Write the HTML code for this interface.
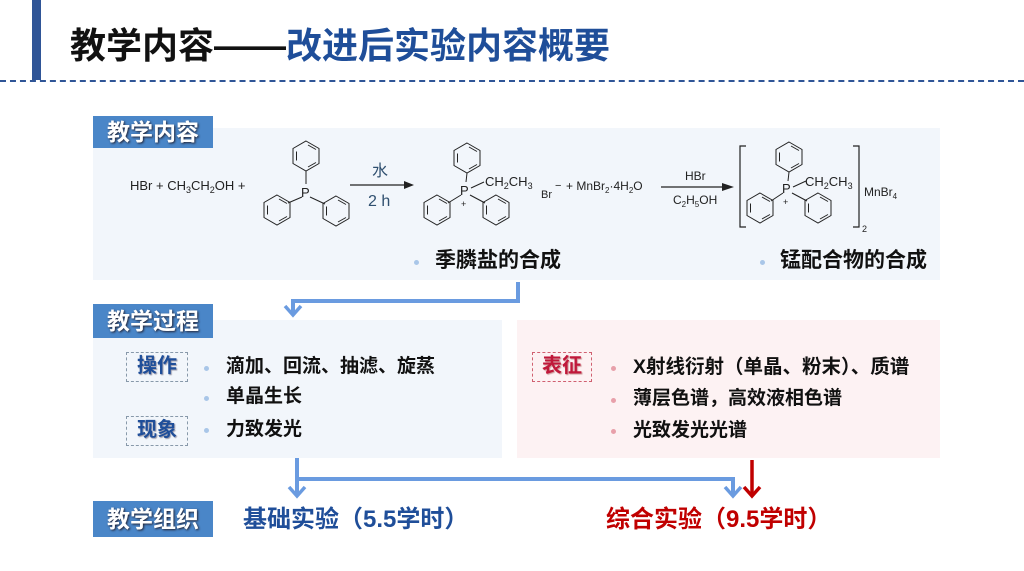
<!DOCTYPE html>
<html><head><meta charset="utf-8"><style>
html,body{margin:0;padding:0;background:#fff;}
body{width:1024px;height:571px;overflow:hidden;position:relative;font-family:"Liberation Sans","Noto Sans CJK SC",sans-serif;}
.t{position:absolute;white-space:nowrap;}
.lab{position:absolute;background:#4a86c8;color:#fff;font-weight:bold;font-size:23px;text-align:center;text-shadow:1px 1px 2px #223;line-height:32px;}
.bx{position:absolute;border:1px dashed #8899aa;font-weight:bold;font-size:20px;text-align:center;line-height:27px;color:#1f4e99;text-shadow:1px 1px 1px #99a;}
.it{position:absolute;font-weight:bold;font-size:19px;color:#111;white-space:nowrap;line-height:22px;}
.dot{position:absolute;width:5px;height:5px;border-radius:50%;background:#a9c6e8;}
</style></head><body>
<div style="position:absolute;left:32px;top:0;width:9px;height:80px;background:#2f5597"></div>
<div style="position:absolute;left:0;top:80px;width:1024px;border-top:2px dashed #2f5597"></div>
<div class="t" style="left:70px;top:24px;font-size:36px;line-height:44px;font-weight:bold;color:#111;">教学内容——<span style="color:#1f4e99">改进后实验内容概要</span></div>

<div style="position:absolute;left:93px;top:128px;width:847px;height:152px;background:#f2f6fb"></div>
<div style="position:absolute;left:93px;top:320px;width:409px;height:138px;background:#f2f6fb"></div>
<div style="position:absolute;left:517px;top:320px;width:423px;height:138px;background:#fdf2f3"></div>

<svg style="position:absolute;left:0;top:0" width="1024" height="571">
<defs>
<g id="r" fill="none" stroke="#222" stroke-width="1">
<polygon points="0,-15 13,-7.5 13,7.5 0,15 -13,7.5 -13,-7.5"/>
<line x1="2" y1="-11" x2="10" y2="-6.5"/><line x1="10" y1="6.5" x2="2" y2="11"/><line x1="-9.5" y1="4.5" x2="-9.5" y2="-4.5"/>
</g>
</defs>
<g font-family="Liberation Sans, sans-serif" fill="#222" font-size="13">
<text x="130" y="190">HBr + CH<tspan font-size="9" dy="3">3</tspan><tspan dy="-3">CH</tspan><tspan font-size="9" dy="3">2</tspan><tspan dy="-3">OH +</tspan></text>
<use href="#r" x="306" y="156"/><use href="#r" x="277" y="210"/><use href="#r" x="336" y="211"/>
<g stroke="#222" stroke-width="1"><line x1="306" y1="171" x2="306" y2="184"/><line x1="302" y1="197" x2="288" y2="203"/><line x1="310" y1="197" x2="325" y2="204"/></g>
<text x="301" y="197">P</text>
<line x1="350" y1="185" x2="404" y2="185" stroke="#222" stroke-width="1.2"/><polygon points="404,181 414,185 404,189" fill="#222"/>
<text x="372" y="176" font-size="16" fill="#2f4f6f" font-family="Noto Sans CJK SC">水</text>
<text x="368" y="206" font-size="16" fill="#2f4f6f">2 h</text>
<use href="#r" x="467" y="158"/><use href="#r" x="437" y="210"/><use href="#r" x="496" y="210"/>
<g stroke="#222" stroke-width="1"><line x1="467" y1="173" x2="466" y2="182"/><line x1="461" y1="195" x2="448" y2="203"/><line x1="470" y1="195" x2="485" y2="203"/><line x1="471" y1="188" x2="484" y2="182"/></g>
<text x="460" y="195">P</text><text x="461" y="207" font-size="9">+</text>
<text x="485" y="186">CH<tspan font-size="9" dy="3">2</tspan><tspan dy="-3">CH</tspan><tspan font-size="9" dy="3">3</tspan></text>
<text x="541" y="198" font-size="11">Br</text><text x="555" y="189" font-size="11">−</text>
<text x="566" y="190" font-size="12">+ MnBr<tspan font-size="8" dy="3">2</tspan><tspan dy="-3">·4H</tspan><tspan font-size="8" dy="3">2</tspan><tspan dy="-3">O</tspan></text>
<line x1="661" y1="187" x2="724" y2="187" stroke="#222" stroke-width="1.2"/><polygon points="722,183 734,187 722,191" fill="#222"/>
<text x="685" y="180" font-size="12">HBr</text>
<text x="673" y="204" font-size="12">C<tspan font-size="8" dy="3">2</tspan><tspan dy="-3">H</tspan><tspan font-size="8" dy="3">5</tspan><tspan dy="-3">OH</tspan></text>
<polyline points="746,146 740,146 740,227 746,227" fill="none" stroke="#222" stroke-width="1.2"/>
<polyline points="853,146 859,146 859,227 853,227" fill="none" stroke="#222" stroke-width="1.2"/>
<use href="#r" x="789" y="157"/><use href="#r" x="760" y="208"/><use href="#r" x="818" y="208"/>
<g stroke="#222" stroke-width="1"><line x1="789" y1="172" x2="788" y2="181"/><line x1="783" y1="193" x2="771" y2="201"/><line x1="792" y1="193" x2="807" y2="201"/><line x1="793" y1="187" x2="806" y2="181"/></g>
<text x="782" y="193">P</text><text x="783" y="205" font-size="9">+</text>
<text x="805" y="186">CH<tspan font-size="9" dy="3">2</tspan><tspan dy="-3">CH</tspan><tspan font-size="9" dy="3">3</tspan></text>
<text x="864" y="196" font-size="12">MnBr<tspan font-size="8" dy="3">4</tspan></text>
<text x="862" y="232" font-size="9">2</text>
</g>
<g fill="none" stroke="#6a9be0" stroke-width="4">
<polyline points="518,282 518,301 293,301 293,313"/>
<polyline points="297,458 297,494"/>
<polyline points="297,479 733,479 733,494"/>
</g>
<g fill="none" stroke="#6a9be0" stroke-width="3.5">
<polyline points="285,306 293,315 301,306"/>
<polyline points="289,487 297,496 305,487"/>
<polyline points="725,487 733,496 741,487"/>
</g>
<line x1="752" y1="460" x2="752" y2="495" stroke="#c00000" stroke-width="3.5"/>
<polyline points="744,487 752,496 760,487" fill="none" stroke="#c00000" stroke-width="3.5"/>
</svg>

<div class="lab" style="left:93px;top:116px;width:120px;height:32px">教学内容</div>
<div class="lab" style="left:93px;top:304px;width:120px;height:34px;line-height:34px">教学过程</div>
<div class="lab" style="left:93px;top:501px;width:120px;height:36px;line-height:36px">教学组织</div>

<div class="dot" style="left:414px;top:260px"></div><div class="it" style="left:435px;top:250px;font-size:21px">季膦盐的合成</div>
<div class="dot" style="left:760px;top:260px"></div><div class="it" style="left:780px;top:250px;font-size:21px">锰配合物的合成</div>

<div class="bx" style="left:126px;top:352px;width:60px;height:28px">操作</div>
<div class="bx" style="left:126px;top:416px;width:60px;height:28px">现象</div>
<div class="dot" style="left:204px;top:366px"></div><div class="it" style="left:226px;top:356px">滴加、回流、抽滤、旋蒸</div>
<div class="dot" style="left:204px;top:396px"></div><div class="it" style="left:226px;top:386px">单晶生长</div>
<div class="dot" style="left:204px;top:428px"></div><div class="it" style="left:226px;top:419px">力致发光</div>

<div class="bx" style="left:532px;top:352px;width:58px;height:28px;color:#c0183a;border-color:#d06070;text-shadow:1px 1px 1px #c99">表征</div>
<div class="dot" style="left:611px;top:366px;background:#e8a0aa"></div><div class="it" style="left:633px;top:356px;font-size:19.5px">X射线衍射（单晶、粉末）、质谱</div>
<div class="dot" style="left:611px;top:398px;background:#e8a0aa"></div><div class="it" style="left:633px;top:388px">薄层色谱，高效液相色谱</div>
<div class="dot" style="left:611px;top:429px;background:#e8a0aa"></div><div class="it" style="left:633px;top:420px">光致发光光谱</div>

<div class="t" style="left:243px;top:504px;font-size:24px;line-height:32px;font-weight:bold;color:#1f4e99">基础实验（5.5学时）</div>
<div class="t" style="left:606px;top:504px;font-size:24px;line-height:32px;font-weight:bold;color:#c00000">综合实验（9.5学时）</div>
</body></html>
